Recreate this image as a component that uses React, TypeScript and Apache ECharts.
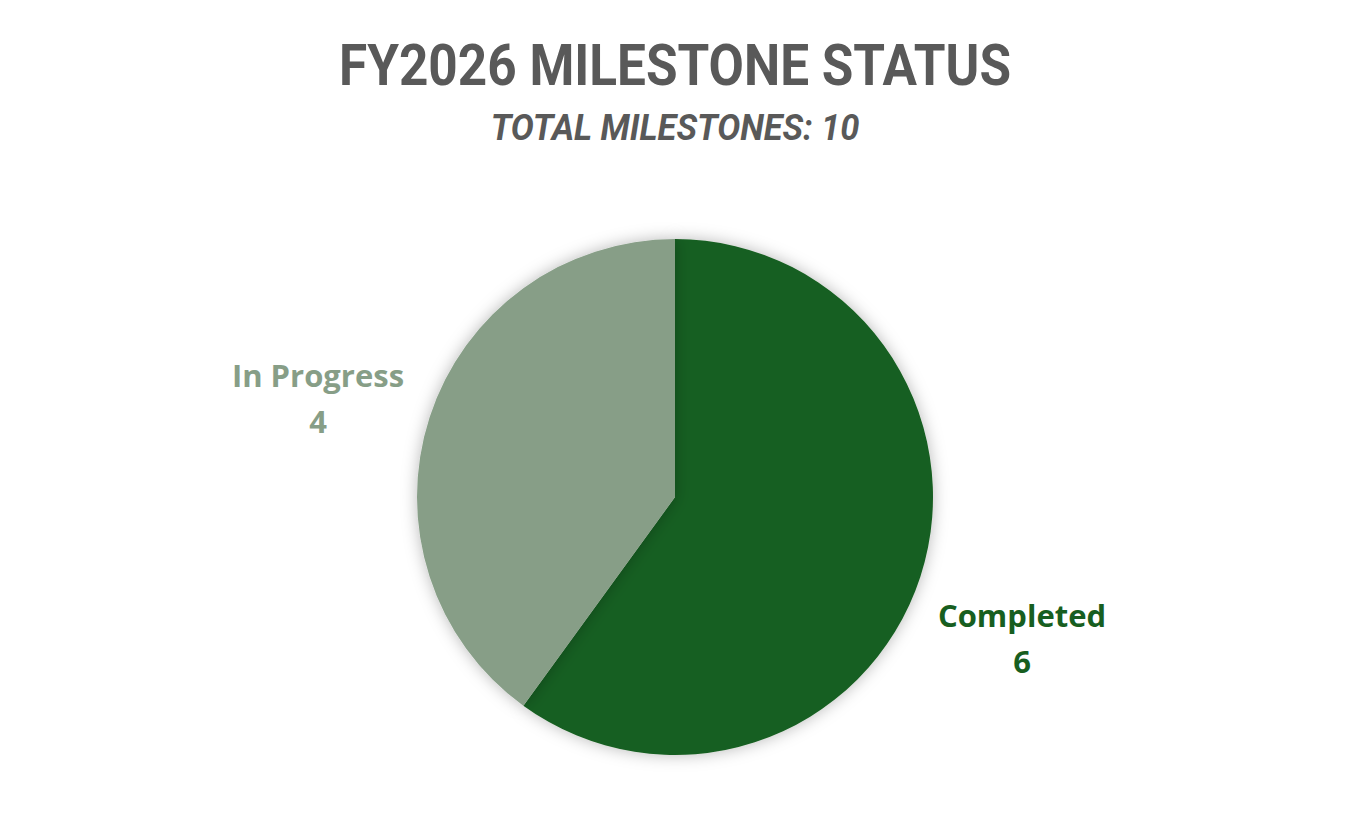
import React, { useRef, useEffect } from 'react'
import * as echarts from 'echarts'

const categories = ['Completed', 'In Progress']
const values = [6, 4]
const colors = ['#175e20', '#879e87']
const titleText = 'FY2026 MILESTONE STATUS'
const subtitleText = 'TOTAL MILESTONES: 10'

// label centres, picked to match where the labels sit in the picture
const labelSpots = [
  [1022, 638],
  [318, 398],
]

const App: React.FC = () => {
  const chartRef = useRef<HTMLDivElement>(null)

  useEffect(() => {
    if (!chartRef.current) return
    const chart = echarts.init(chartRef.current, undefined, { renderer: 'svg' })

    const option = {
      animation: false,
      backgroundColor: '#ffffff',
      // titles drawn as graphic text so they can be squeezed to a condensed look
      graphic: [
        {
          type: 'text',
          x: 675,
          y: 66,
          scaleX: 0.9,
          style: {
            text: titleText,
            x: 0,
            y: 0,
            fontFamily: 'Roboto',
            fontWeight: 'bold',
            fontSize: 57,
            fill: '#595959',
            align: 'center',
            verticalAlign: 'middle',
          },
        },
        {
          type: 'text',
          x: 675,
          y: 128,
          scaleX: 0.93,
          style: {
            text: subtitleText,
            x: 0,
            y: 0,
            fontFamily: 'Roboto',
            fontWeight: 'bold',
            fontStyle: 'italic',
            fontSize: 37,
            fill: '#595959',
            align: 'center',
            verticalAlign: 'middle',
          },
        },
      ],
      series: [
        {
          type: 'pie',
          center: [675, 497],
          radius: 258,
          startAngle: 90,
          clockwise: true,
          labelLine: { show: false },
          itemStyle: {
            shadowBlur: 16,
            shadowColor: 'rgba(0,0,0,0.28)',
          },
          label: {
            show: true,
            position: 'outside',
            formatter: '{b}\n{c}',
            fontFamily: 'Open Sans',
            fontWeight: 'bold',
            fontSize: 31,
            lineHeight: 46,
            align: 'center',
          },
          labelLayout: (params: any) => ({
            x: labelSpots[params.dataIndex][0],
            y: labelSpots[params.dataIndex][1],
            align: 'center',
            verticalAlign: 'middle',
          }),
          data: categories.map((name, i) => ({
            name,
            value: values[i],
            itemStyle: { color: colors[i] },
            label: { color: colors[i] },
          })),
        },
      ],
    }

    chart.setOption(option)
    return () => {
      chart.dispose()
    }
  }, [])

  return (
    <div
      ref={chartRef}
      style={{ position: 'fixed', left: 0, top: 0, width: '1350px', height: '839px' }}
    />
  )
}

export default App
